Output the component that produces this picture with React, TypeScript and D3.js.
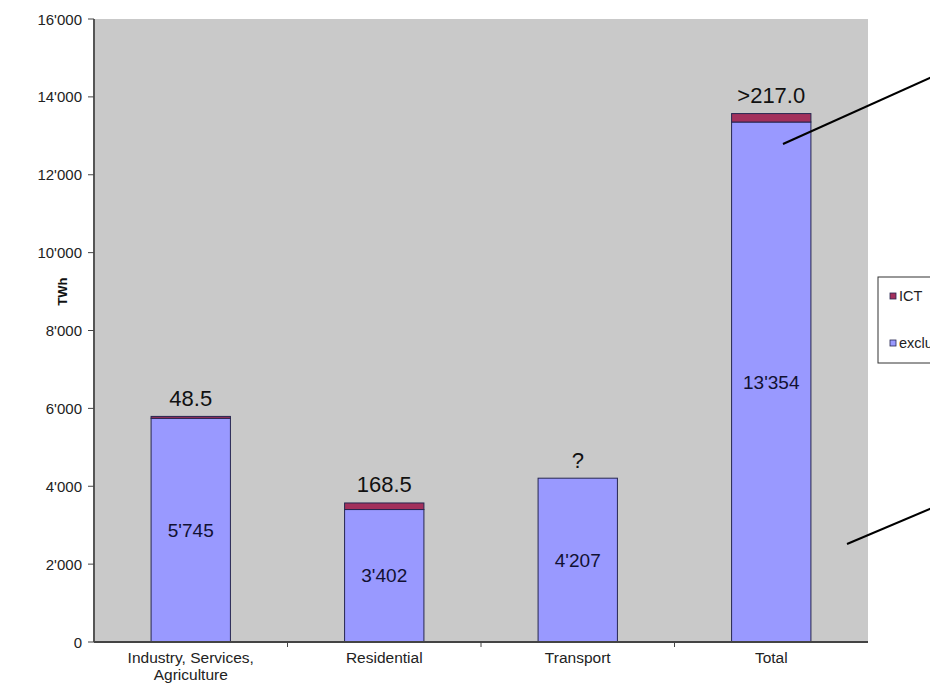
import React from "react";
import * as d3 from "d3";

// Electricity consumption by sector (TWh), split into ICT and the remainder
const categories = ["Industry, Services, Agriculture", "Residential", "Transport", "Total"];
const categoryLines = [["Industry, Services,", "Agriculture"], ["Residential"], ["Transport"], ["Total"]];
const excludingIct = [5745, 3402, 4207, 13354];
const ictValues: (number | null)[] = [48.5, 168.5, null, 217.0];
const ictPrefix = ["", "", "", ">"];
const yTicks = [0, 2000, 4000, 6000, 8000, 10000, 12000, 14000, 16000];
const legendItems = [
  { key: "ict", label: "ICT" },
  { key: "excl", label: "excluding ICT" },
];

const W = 930;
const H = 698;
const FONT = "'Liberation Sans', Arial, Helvetica, sans-serif";
const BLUE = "#9999ff";
const PLUM = "#a3305c";
const OUTLINE = "#262650";

const locale = d3.formatLocale({ decimal: ".", thousands: "'", grouping: [3], currency: ["", ""] });
const fmtThousands = locale.format(",");
const fmtOne = d3.format(".1f");

export default function App() {
  const x = d3.scaleBand<string>().domain(categories).range([94, 868]).paddingInner(0.59).paddingOuter(0.295);
  const y = d3.scaleLinear().domain([0, 16000]).range([642, 19]);
  const bw = x.bandwidth();

  return (
    <svg width={W} height={H} style={{ position: "absolute", left: 0, top: 0, background: "#fff" }} fontFamily={FONT}>
      {/* plot area */}
      <rect x={94} y={y(16000)} width={868 - 94} height={y(0) - y(16000)} fill="#c9c9c9" />

      {/* bars */}
      {categories.map((c, i) => {
        const x0 = x(c)!;
        const base = excludingIct[i];
        const ict = ictValues[i] ?? 0;
        const top = base + ict;
        return (
          <g key={c}>
            <rect x={x0} y={y(base)} width={bw} height={y(0) - y(base)} fill={BLUE} stroke={OUTLINE} strokeWidth={1} />
            {ict > 0 && (
              <rect x={x0} y={y(top)} width={bw} height={Math.max(y(base) - y(top), 1)} fill={PLUM} stroke={OUTLINE} strokeWidth={1} />
            )}
            <text x={x0 + bw / 2} y={y(base / 2)} textAnchor="middle" dominantBaseline="central" fontSize={19} fill="#111133">
              {fmtThousands(base)}
            </text>
            <text x={x0 + bw / 2} y={y(top) - 18} textAnchor="middle" dominantBaseline="central" fontSize={22} fill="#111">
              {ictValues[i] == null ? "?" : ictPrefix[i] + fmtOne(ictValues[i] as number)}
            </text>
          </g>
        );
      })}

      {/* y axis */}
      <line x1={94} x2={94} y1={y(16000)} y2={y(0)} stroke="#555" strokeWidth={2} />
      {yTicks.map((t) => (
        <g key={t}>
          <line x1={88} x2={94} y1={y(t)} y2={y(t)} stroke="#444" strokeWidth={1} />
          <text x={82} y={y(t)} textAnchor="end" dominantBaseline="central" fontSize={15} fill="#222">
            {fmtThousands(t)}
          </text>
        </g>
      ))}
      <text transform={`translate(62,${y(9000)}) rotate(-90)`} textAnchor="middle" dominantBaseline="central" fontSize={13} fontWeight="bold" fill="#111">
        TWh
      </text>

      {/* x axis */}
      <line x1={94} x2={868} y1={y(0)} y2={y(0)} stroke="#444" strokeWidth={2} />
      {categories.slice(1).map((c) => {
        const bx = x(c)! - (x.step() - bw) / 2;
        return <line key={c} x1={bx} x2={bx} y1={y(0)} y2={y(0) + 5} stroke="#444" strokeWidth={1} />;
      })}
      {categories.map((c, i) => (
        <text key={c} x={x(c)! + bw / 2} y={663} textAnchor="middle" fontSize={15.5} fill="#222">
          {categoryLines[i].map((line, j) => (
            <tspan key={j} x={x(c)! + bw / 2} dy={j === 0 ? 0 : 17}>
              {line}
            </tspan>
          ))}
        </text>
      ))}

      {/* legend */}
      <rect x={878} y={277} width={80} height={86} fill="#fff" stroke="#333" strokeWidth={1} />
      {legendItems.map((it, i) => (
        <g key={it.key} transform={`translate(890,${296 + i * 47})`}>
          <rect x={0} y={-3} width={6} height={6} fill={it.key === "ict" ? PLUM : BLUE} stroke={OUTLINE} strokeWidth={0.8} />
          <text x={9} y={0} dominantBaseline="central" fontSize={14.5} fill="#222">
            {it.label}
          </text>
        </g>
      ))}

      {/* callout lines */}
      <line x1={783} y1={144} x2={932} y2={77} stroke="#000" strokeWidth={2} />
      <line x1={847} y1={544} x2={932} y2={508} stroke="#000" strokeWidth={2} />
    </svg>
  );
}
